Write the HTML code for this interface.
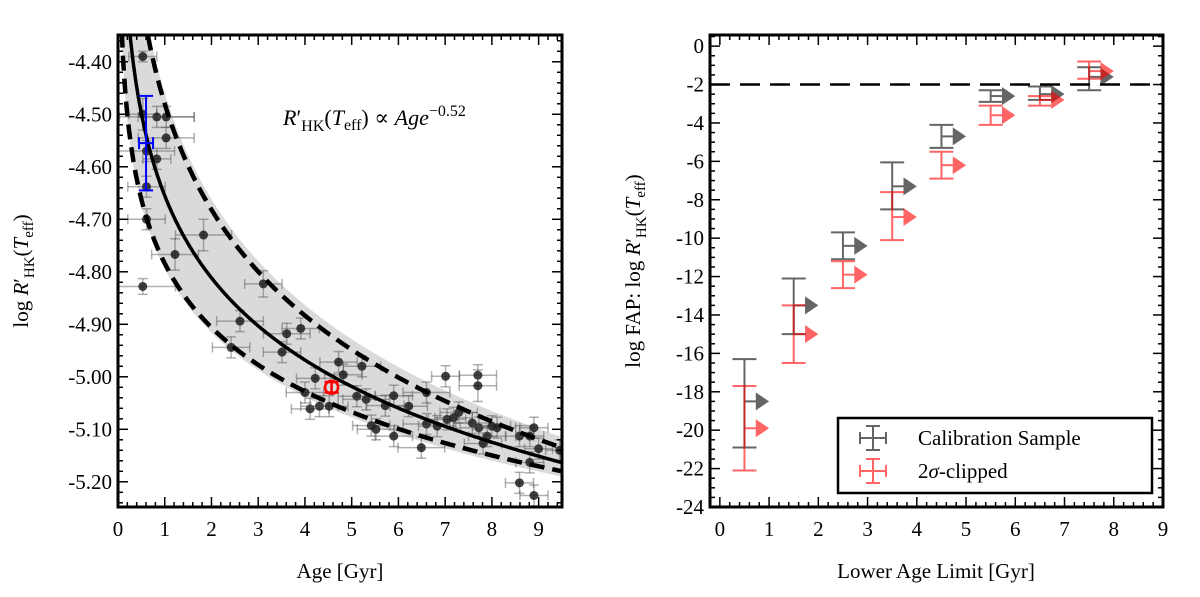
<!DOCTYPE html>
<html><head><meta charset="utf-8"><style>
body{margin:0;background:#fff;}
svg{display:block;font-family:"Liberation Serif","DejaVu Serif",serif;}
</style></head><body>
<svg id="chart" width="1200" height="597" viewBox="0 0 1200 597" xmlns="http://www.w3.org/2000/svg"></svg>
<script>
// ---- Left panel data ----
const ages = [0.53,0.53,0.83,1.03,1.03,0.61,0.83,0.61,0.61,1.83,1.22,0.53,3.11,2.61,2.42,3.61,3.91,3.51,4.72,5.22,4.82,4.22,4.00,4.11,4.31,4.52,5.11,5.31,5.42,5.52,5.72,5.90,5.90,6.22,6.60,6.60,6.49,7.01,6.83,7.04,7.29,7.18,7.70,7.70,7.58,7.72,7.90,7.81,8.00,8.11,8.59,8.81,8.90,9.00,8.81,8.59,8.90,9.45];
const logR = [-4.39,-4.50,-4.505,-4.505,-4.545,-4.57,-4.585,-4.638,-4.70,-4.73,-4.767,-4.828,-4.823,-4.894,-4.944,-4.918,-4.908,-4.953,-4.972,-4.98,-4.996,-5.003,-5.03,-5.061,-5.056,-5.056,-5.037,-5.043,-5.093,-5.10,-5.055,-5.036,-5.113,-5.056,-5.03,-5.09,-5.135,-4.999,-5.094,-5.081,-5.068,-5.078,-4.997,-5.017,-5.088,-5.097,-5.113,-5.127,-5.094,-5.097,-5.113,-5.113,-5.097,-5.137,-5.163,-5.202,-5.226,-5.14];
const ageErr = [0.3,0.3,0.8,0.6,0.6,0.6,0.3,0.4,0.4,0.6,0.5,0.7,0.4,0.5,0.4,0.5,0.4,0.4,0.4,0.4,0.4,0.4,0.4,0.4,0.4,0.4,0.4,0.5,0.4,0.4,0.4,0.4,0.4,0.4,0.5,0.5,0.5,0.3,0.4,0.4,0.4,0.4,0.4,0.4,0.4,0.4,0.4,0.4,0.4,0.4,0.3,0.3,0.3,0.3,0.3,0.3,0.3,0.3];
const logRErr = [0.01,0.03,0.02,0.02,0.02,0.02,0.02,0.02,0.02,0.03,0.03,0.015,0.025,0.02,0.02,0.02,0.02,0.02,0.02,0.02,0.02,0.02,0.02,0.02,0.02,0.02,0.02,0.02,0.02,0.02,0.02,0.02,0.02,0.02,0.02,0.02,0.02,0.02,0.02,0.02,0.02,0.02,0.02,0.03,0.02,0.02,0.02,0.02,0.02,0.02,0.02,0.02,0.02,0.02,0.02,0.02,0.02,0.02];
const fitCoef = [-4.655, -0.52];
const upperCoef = [-4.48, -0.67];
const lowerCoef = [-4.784, -0.405];
const sunPoint = [4.57, -5.02, 0.05, 0.01];
const bluePoint = [0.6, -4.555, 0.15, 0.09];
const leftXTicks = [0,1,2,3,4,5,6,7,8,9];
const leftYTicks = [-4.40,-4.50,-4.60,-4.70,-4.80,-4.90,-5.00,-5.10,-5.20];
// ---- Right panel data ----
const limits = [0.5,1.5,2.5,3.5,4.5,5.5,6.5,7.5];
const calFAP = [-18.5,-13.5,-10.4,-7.3,-4.7,-2.6,-2.5,-1.6];
const calLo = [-20.9,-15.0,-11.1,-8.5,-5.3,-2.9,-2.8,-2.3];
const calHi = [-16.3,-12.1,-9.7,-6.05,-4.1,-2.3,-2.1,-1.1];
const clipFAP = [-19.9,-15.0,-11.9,-8.9,-6.2,-3.6,-2.8,-1.3];
const clipLo = [-22.1,-16.5,-12.6,-10.1,-6.9,-4.1,-3.1,-1.7];
const clipHi = [-17.7,-13.5,-11.2,-7.6,-5.5,-3.1,-2.6,-0.8];
const threshold = -2;
const rightXTicks = [0,1,2,3,4,5,6,7,8,9];
const rightYTicks = [0,-2,-4,-6,-8,-10,-12,-14,-16,-18,-20,-22,-24];

const NS="http://www.w3.org/2000/svg";
const svg=document.getElementById('chart');
function mk(tag,attrs,parent){const e=document.createElementNS(NS,tag);for(const k in attrs)e.setAttribute(k,attrs[k]);(parent||svg).appendChild(e);return e;}

const L={x0:118,x1:562,y0:35,y1:507,xmin:0,xmax:9.5,ymin:-5.248,ymax:-4.349};
const lx=v=>L.x0+(v-L.xmin)/(L.xmax-L.xmin)*(L.x1-L.x0);
const ly=v=>L.y1-(v-L.ymin)/(L.ymax-L.ymin)*(L.y1-L.y0);
const R={x0:710,x1:1163,y0:35,y1:507,xmin:-0.2,xmax:9,ymin:-24,ymax:0.58};
const rx=v=>R.x0+(v-R.xmin)/(R.xmax-R.xmin)*(R.x1-R.x0);
const ry=v=>R.y1-(v-R.ymin)/(R.ymax-R.ymin)*(R.y1-R.y0);

const defs=mk('defs',{});
const cpL=mk('clipPath',{id:'cl'},defs);mk('rect',{x:L.x0,y:L.y0,width:L.x1-L.x0,height:L.y1-L.y0},cpL);
const gL=mk('g',{'clip-path':'url(#cl)'});


const f=(c,a)=>c[0]+c[1]*Math.log10(a);
function curve(c){let d='';for(let a=0.05;a<=9.6;a+=0.02){d+=(d?'L':'M')+lx(a).toFixed(1)+','+ly(f(c,a)).toFixed(1);}return d;}
let band='';for(let a=0.05;a<=9.6;a+=0.02)band+=(band?'L':'M')+lx(a).toFixed(1)+','+ly(f(upperCoef,a)+0.02).toFixed(1);
for(let a=9.6;a>=0.05;a-=0.02)band+='L'+lx(a).toFixed(1)+','+ly(f(lowerCoef,a)-0.01).toFixed(1);
const bandEl=mk('path',{d:band+'Z',fill:'#dadada'},gL);


ages.forEach((a,i)=>{
  const g=mk('g',{},gL);
  
  
  const x=lx(a),y=ly(logR[i]),xa=lx(a-ageErr[i]),xb=lx(a+ageErr[i]),ya=ly(logR[i]-logRErr[i]),yb=ly(logR[i]+logRErr[i]);
  const st={stroke:'rgba(80,80,80,0.45)','stroke-width':1.5};
  mk('line',Object.assign({x1:xa,x2:xb,y1:y,y2:y},st),g);
  mk('line',Object.assign({x1:x,x2:x,y1:ya,y2:yb},st),g);
  [xa,xb].forEach(xx=>mk('line',Object.assign({x1:xx,x2:xx,y1:y-5,y2:y+5},st),g));
  [ya,yb].forEach(yy=>mk('line',Object.assign({x1:x-5,x2:x+5,y1:yy,y2:yy},st),g));
  mk('circle',{cx:x,cy:y,r:4.5,fill:'rgba(30,30,30,0.85)'},g);
});
const fitEl=mk('path',{d:curve(fitCoef),fill:'none',stroke:'#000','stroke-width':3.5},gL);


[upperCoef,lowerCoef].forEach((c,i)=>{const p=mk('path',{d:curve(c),fill:'none',stroke:'#000','stroke-width':4.5,'stroke-dasharray':'15,8'},gL);

});
{const g=mk('g',{stroke:'#0000ff','stroke-width':2},gL);


const [a,v,ea,ev]=bluePoint;const x=lx(a),y=ly(v);
mk('line',{x1:x,x2:x,y1:ly(v-ev),y2:ly(v+ev)},g);
mk('line',{x1:lx(a-ea),x2:lx(a+ea),y1:y,y2:y},g);
[ly(v-ev),ly(v+ev)].forEach(yy=>mk('line',{x1:x-7,x2:x+7,y1:yy,y2:yy},g));
[lx(a-ea),lx(a+ea)].forEach(xx=>mk('line',{x1:xx,x2:xx,y1:y-6,y2:y+6},g));}
{const g=mk('g',{stroke:'#ff0000','stroke-width':2.5,fill:'none'},gL);


const [a,v,ea,ev]=sunPoint;const x=lx(a),y=ly(v);
mk('circle',{cx:x,cy:y,r:6.5},g);
mk('line',{x1:x,x2:x,y1:ly(v-ev),y2:ly(v+ev)},g);
[ly(v-ev),ly(v+ev)].forEach(yy=>mk('line',{x1:x-7,x2:x+7,y1:yy,y2:yy},g));}

function frame(P,fx,fy,xt,yt,xminor,yminor,fmtY,name){
  const g=mk('g',{stroke:'#000','stroke-width':1.5});
  
  
  for(let v=Math.ceil(P.xmin/xminor)*xminor;v<=P.xmax+1e-9;v+=xminor){const x=fx(v);const maj=Math.abs(v-Math.round(v))<1e-6;const len=maj?10:5;
    mk('line',{x1:x,x2:x,y1:P.y1,y2:P.y1-len},g);mk('line',{x1:x,x2:x,y1:P.y0,y2:P.y0+len},g);}
  for(let v=Math.ceil(P.ymin/yminor)*yminor;v<=P.ymax+1e-9;v+=yminor){const y=fy(v);const maj=yt.some(t=>Math.abs(t-v)<1e-6);const len=maj?10:5;
    mk('line',{x1:P.x0,x2:P.x0+len,y1:y,y2:y},g);mk('line',{x1:P.x1,x2:P.x1-len,y1:y,y2:y},g);}
  const box=mk('rect',{x:P.x0,y:P.y0,width:P.x1-P.x0,height:P.y1-P.y0,fill:'none',stroke:'#000','stroke-width':3});
  
  
  xt.forEach(v=>{const t=mk('text',{x:fx(v),y:P.y1+29,'font-size':21,'text-anchor':'middle'});t.textContent=v;
    
    });
  yt.forEach(v=>{const t=mk('text',{x:P.x0-6,y:fy(v)+7,'font-size':21,'text-anchor':'end'});t.textContent=fmtY(v);
    
    });
}
frame(L,lx,ly,leftXTicks,leftYTicks,0.2,0.02,v=>v.toFixed(2),'left');

{const t=mk('text',{x:283,y:125,'font-size':22,'font-style':'italic'});


t.innerHTML='R<tspan font-style="normal">′</tspan><tspan font-style="normal" font-size="16" dy="6">HK</tspan><tspan font-style="normal" dy="-6">(</tspan>T<tspan font-style="normal" font-size="16" dy="5">eff</tspan><tspan font-style="normal" dy="-5">) ∝ </tspan>Age<tspan font-style="normal" font-size="16" dy="-9">−0.52</tspan>';}

{const t=mk('text',{x:340,y:578,'font-size':21,'text-anchor':'middle'});t.textContent='Age [Gyr]';


const t2=mk('text',{x:0,y:0,'font-size':21,'text-anchor':'middle',transform:'translate(28,271) rotate(-90)'});


t2.innerHTML='log <tspan font-style="italic">R</tspan>′<tspan font-size="15" dy="6">HK</tspan><tspan dy="-6">(</tspan><tspan font-style="italic">T</tspan><tspan font-size="15" dy="5">eff</tspan><tspan dy="-5">)</tspan>';}

const dash=mk('line',{x1:R.x0,x2:R.x1,y1:ry(threshold),y2:ry(threshold),stroke:'#000','stroke-width':2.5,'stroke-dasharray':'20,10'});


function series(vals,lo,hi,color,name){
  const g=mk('g',{});
  
  
  limits.forEach((a,i)=>{
    const p=mk('g',{stroke:color,'stroke-width':2,fill:color,opacity:0.6},g);
    
    
    const x=rx(a),y=ry(vals[i]);
    mk('line',{x1:x,x2:x,y1:ry(lo[i]),y2:ry(hi[i])},p);
    [ry(lo[i]),ry(hi[i])].forEach(yy=>mk('line',{x1:x-12,x2:x+12,y1:yy,y2:yy},p));
    mk('line',{x1:x,x2:rx(a+0.3),y1:y,y2:y},p);
    const ax=rx(a+0.23),bx=rx(a+0.5);
    mk('polygon',{points:`${ax},${y-9} ${bx},${y} ${ax},${y+9}`,stroke:'none'},p);
  });
}
series(calFAP,calLo,calHi,'#000','calibration-series');
series(clipFAP,clipLo,clipHi,'#ff0000','clipped-series');
frame(R,rx,ry,rightXTicks,rightYTicks,0.2,0.5,v=>String(v),'right');

{const g=mk('g',{});


mk('rect',{x:838,y:418,width:314,height:75,fill:'#fff',stroke:'#000','stroke-width':2.5},g);
[['#000','Calibration Sample',438],['#ff0000','2σ-clipped',471]].forEach(([c,txt,y],i)=>{
  const e=mk('g',{},g);
  
  
  const ic=mk('g',{stroke:c,'stroke-width':2,opacity:0.6},e);
  mk('line',{x1:860,x2:886,y1:y,y2:y},ic);mk('line',{x1:873,x2:873,y1:y-12,y2:y+12},ic);
  mk('line',{x1:866,x2:880,y1:y-12,y2:y-12},ic);mk('line',{x1:866,x2:880,y1:y+12,y2:y+12},ic);
  mk('line',{x1:860,x2:860,y1:y-6,y2:y+6},ic);mk('line',{x1:886,x2:886,y1:y-6,y2:y+6},ic);
  const t=mk('text',{x:918,y:y+7,'font-size':21},e);
  if(i)t.innerHTML='2<tspan font-style="italic">σ</tspan>-clipped';else t.textContent=txt;
});}
{const t=mk('text',{x:936,y:578,'font-size':21,'text-anchor':'middle'});t.textContent='Lower Age Limit [Gyr]';


const t2=mk('text',{x:0,y:0,'font-size':21,'text-anchor':'middle',transform:'translate(640,271) rotate(-90)'});


t2.innerHTML='log FAP: log <tspan font-style="italic">R</tspan>′<tspan font-size="15" dy="6">HK</tspan><tspan dy="-6">(</tspan><tspan font-style="italic">T</tspan><tspan font-size="15" dy="5">eff</tspan><tspan dy="-5">)</tspan>';}
</script>
</body></html>
